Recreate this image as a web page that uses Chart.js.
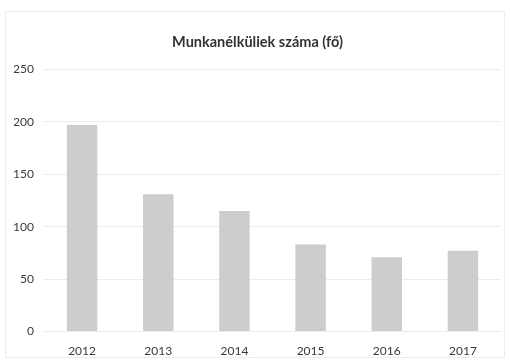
<!DOCTYPE html>
<html>
<head>
<meta charset="utf-8">
<script src="https://cdn.jsdelivr.net/npm/chart.js@4.4.0/dist/chart.umd.min.js"></script>
<style>
  body { margin: 0; background: #fff; }
  .frame {
    position: absolute;
    left: 5px; top: 11px; width: 500px; height: 347px;
    border: 1px solid #ececec;
    box-sizing: border-box;
  }
  .Chart { position: absolute; left: 0; top: 0; width: 510px; height: 362px; }
</style>
</head>
<body>
<div class="frame"></div>
<div class="Chart"><canvas id="myChart"></canvas></div>
<script>
var years = ["2012", "2013", "2014", "2015", "2016", "2017"];
var unemployed = [197, 131, 115, 83, 71, 77];
var yTicks = [0, 50, 100, 150, 200, 250];

var ctx = document.getElementById("myChart").getContext("2d");
var fontName = "Lato, 'Open Sans', sans-serif";

new Chart(ctx, {
  type: "bar",
  data: {
    labels: years,
    datasets: [
      {
        label: "Munkanélküliek száma (fő)",
        data: unemployed,
        backgroundColor: "#cdcdcd",
        barPercentage: 0.4,
        categoryPercentage: 1,
      },
    ],
  },
  options: {
    responsive: true,
    maintainAspectRatio: false,
    animation: false,
    layout: {
      padding: { left: 14, right: 9, top: 34, bottom: 0 },
    },
    plugins: {
      legend: { display: false },
      tooltip: { enabled: false },
      title: {
        display: true,
        text: "Munkanélküliek száma (fő)",
        color: "#333",
        font: { family: fontName, size: 14.5, weight: "bold" },
        padding: { top: 0, bottom: 18 },
      },
    },
    scales: {
      x: {
        grid: { display: false },
        border: { display: false },
        ticks: {
          color: "#3a3a3a",
          font: { family: fontName, size: 12 },
          padding: 4,
        },
      },
      y: {
        min: 0,
        max: 250,
        afterBuildTicks: function (axis) {
          axis.ticks = yTicks.map(function (v) { return { value: v }; });
        },
        // fixed width so the plot starts at x = 44
        afterFit: function (axis) {
          axis.width = 30;
        },
        grid: { color: "#ececec", drawTicks: false },
        border: { display: false },
        ticks: {
          color: "#3a3a3a",
          font: { family: fontName, size: 12 },
          padding: 10,
        },
      },
    },
  },
});
</script>
</body>
</html>
